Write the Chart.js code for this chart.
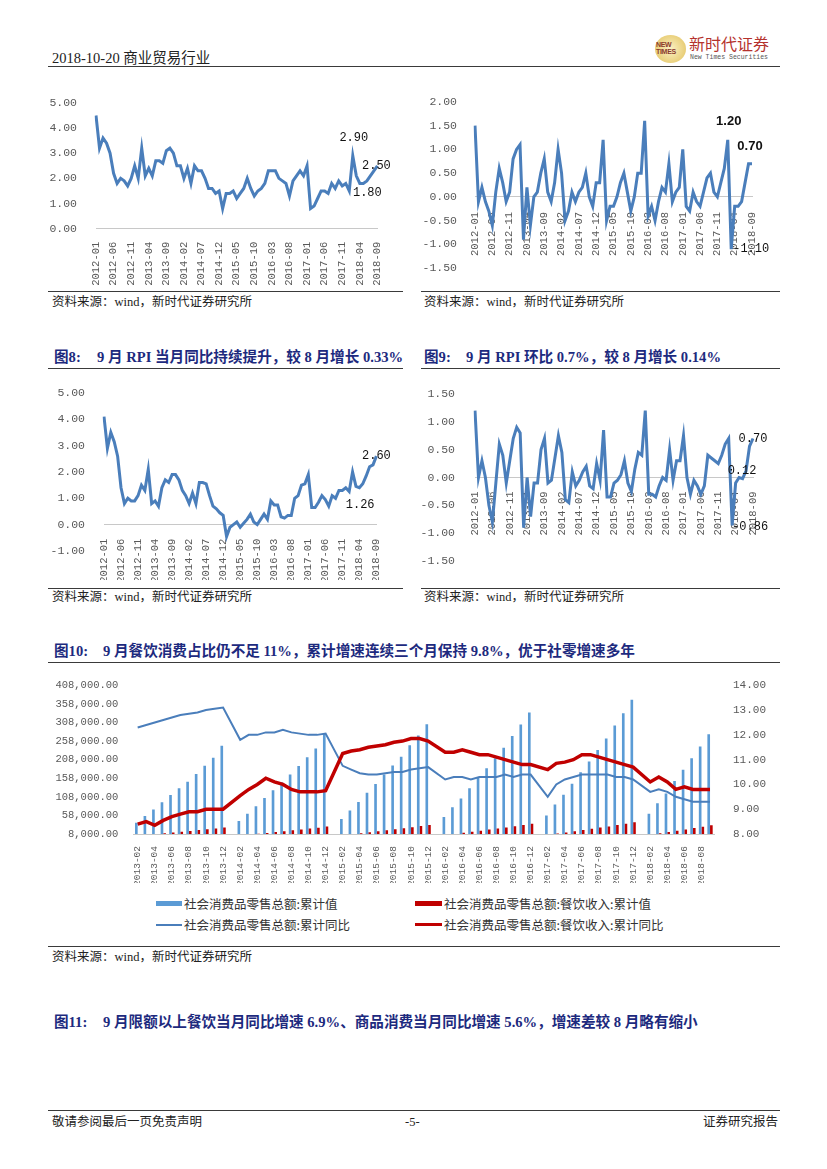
<!DOCTYPE html>
<html><head><meta charset="utf-8">
<script src="https://cdn.jsdelivr.net/npm/chart.js@4.4.1/dist/chart.umd.min.js"></script>
<style>
body{margin:0;background:#fff}
#page{position:relative;width:827px;height:1169px;overflow:hidden;font-family:"Liberation Serif","Noto Sans CJK SC",serif;color:#222}
#page canvas{position:absolute}
.t{position:absolute;white-space:nowrap}
.rule{position:absolute;height:0;border-top:1.6px solid #3a3a3a}
.src{font-size:12.5px;line-height:14px;color:#222}
.ttl{font-size:14.6px;line-height:16px;font-weight:700;color:#1d2a7e}
.lg{font-size:12.5px;line-height:14px;color:#333;font-family:"Noto Sans CJK SC",sans-serif}
.sw{position:absolute}
</style></head><body><div id="page">

<div class="t" style="left:52px;top:48px;font-size:14.5px;line-height:18px">2018-10-20 <span style="font-family:'Noto Sans CJK SC'">商业贸易行业</span></div>
<div class="rule" style="left:48px;top:66px;width:732px"></div>
<div class="sw" style="left:655px;top:35px;width:31px;height:28px;border-radius:50%;background:radial-gradient(circle,#fbf1c4 0%,#e9cf7a 70%,#d6b352 100%)"></div>
<div class="t" style="left:656px;top:41px;font:bold 7px/7px 'Liberation Sans';color:#8b3a2b;letter-spacing:-0.3px">NEW<br>TIMES</div>
<div class="t" style="left:689px;top:33px;font-size:16px;line-height:20px;color:#b5322d;font-family:'Noto Sans CJK SC'">新时代证券</div>
<div class="t" style="left:690px;top:54px;font:6.5px/8px 'Liberation Mono';color:#555">New Times Securities</div>

<canvas id="c1" width="345" height="200" style="left:50px;top:85px"></canvas>
<canvas id="c2" width="370" height="200" style="left:420px;top:85px"></canvas>
<div class="rule" style="left:48px;top:291px;width:355px"></div>
<div class="rule" style="left:421px;top:291px;width:359px"></div>
<div class="t src" style="left:52px;top:295px">资料来源：wind，新时代证券研究所</div>
<div class="t src" style="left:424px;top:295px">资料来源：wind，新时代证券研究所</div>

<div class="t ttl" style="left:54px;top:349px">图8:</div>
<div class="t ttl" style="left:97px;top:349px">9 月 RPI 当月同比持续提升，较 8 月增长 0.33%</div>
<div class="t ttl" style="left:424px;top:349px">图9:</div>
<div class="t ttl" style="left:466px;top:349px">9 月 RPI 环比 0.7%，较 8 月增长 0.14%</div>
<div class="rule" style="left:48px;top:368px;width:355px"></div>
<div class="rule" style="left:421px;top:368px;width:359px"></div>

<canvas id="c3" width="345" height="205" style="left:50px;top:375px"></canvas>
<canvas id="c4" width="370" height="205" style="left:420px;top:375px"></canvas>
<div class="rule" style="left:48px;top:588px;width:355px"></div>
<div class="rule" style="left:421px;top:588px;width:359px"></div>
<div class="t src" style="left:52px;top:590px">资料来源：wind，新时代证券研究所</div>
<div class="t src" style="left:424px;top:590px">资料来源：wind，新时代证券研究所</div>

<div class="t ttl" style="left:54px;top:643px">图10:</div>
<div class="t ttl" style="left:103px;top:643px">9 月餐饮消费占比仍不足 11%，累计增速连续三个月保持 9.8%，优于社零增速多年</div>
<div class="rule" style="left:48px;top:662px;width:732px"></div>

<canvas id="c5" width="740" height="215" style="left:40px;top:668px"></canvas>
<div class="sw" style="left:156px;top:901px;width:26px;height:5px;background:#5b9bd5"></div>
<div class="t lg" style="left:184px;top:897px">社会消费品零售总额:累计值</div>
<div class="sw" style="left:415px;top:901px;width:27px;height:5px;background:#c00000"></div>
<div class="t lg" style="left:444px;top:897px">社会消费品零售总额:餐饮收入:累计值</div>
<div class="sw" style="left:156px;top:924px;width:26px;height:2px;background:#4a7ebb"></div>
<div class="t lg" style="left:184px;top:918px">社会消费品零售总额:累计同比</div>
<div class="sw" style="left:415px;top:923px;width:27px;height:3px;background:#c00000"></div>
<div class="t lg" style="left:444px;top:918px">社会消费品零售总额:餐饮收入:累计同比</div>
<div class="rule" style="left:48px;top:946px;width:732px"></div>
<div class="t src" style="left:52px;top:950px">资料来源：wind，新时代证券研究所</div>

<div class="t ttl" style="left:54px;top:1014px">图11:</div>
<div class="t ttl" style="left:103px;top:1014px">9 月限额以上餐饮当月同比增速 6.9%、商品消费当月同比增速 5.6%，增速差较 8 月略有缩小</div>

<div class="rule" style="left:48px;top:1110px;width:732px"></div>
<div class="t src" style="left:52px;top:1115px">敬请参阅最后一页免责声明</div>
<div class="t src" style="left:405px;top:1115px">-5-</div>
<div class="t src" style="left:703px;top:1115px">证券研究报告</div>
</div>

<script>
// 月份类别
function monthsFrom(y, m, n) {
  const out = [];
  for (let i = 0; i < n; i++) {
    out.push(y + '-' + String(m).padStart(2, '0'));
    m++; if (m > 12) { m = 1; y++; }
  }
  return out;
}
const months = monthsFrom(2012, 1, 81);     // 2012-01 .. 2018-09
const monthsBig = monthsFrom(2013, 2, 68);  // 2013-02 .. 2018-09

// CPI 当月同比
const cpiYoy = [4.5,3.2,3.6,3.4,3.0,2.2,1.8,2.0,1.9,1.7,2.0,2.5,
  2.0,3.2,2.1,2.4,2.1,2.7,2.7,2.6,3.1,3.2,3.0,2.5,
  2.5,2.0,2.4,1.8,2.5,2.3,2.3,2.0,1.6,1.6,1.4,1.5,
  0.8,1.4,1.4,1.5,1.2,1.4,1.6,2.0,1.6,1.3,1.5,1.6,
  1.8,2.3,2.3,2.3,2.0,1.9,1.8,1.3,1.9,2.1,2.3,2.1,
  2.5,0.8,0.9,1.2,1.5,1.5,1.4,1.8,1.6,1.9,1.7,1.8,
  1.5,2.9,2.1,1.8,1.8,1.9,2.1,2.3,2.5];
// CPI 环比
const cpiMom = [1.5,-0.1,0.2,-0.1,-0.3,-0.6,0.1,0.6,0.3,-0.1,0.1,0.8,
  1.0,1.1,-0.9,0.2,-0.6,0.0,0.1,0.5,0.8,0.1,-0.1,0.3,
  1.0,0.5,-0.5,-0.3,0.1,-0.1,0.1,0.2,0.5,0.0,-0.2,0.3,
  0.3,1.2,-0.5,-0.2,-0.2,0.0,0.3,0.5,0.1,-0.3,0.0,0.5,
  0.5,1.6,-0.4,-0.2,-0.5,-0.1,0.2,0.1,0.7,-0.1,0.1,0.2,
  1.0,-0.2,-0.3,0.1,-0.1,-0.2,0.1,0.4,0.5,0.1,0.0,0.3,
  0.6,1.2,-1.1,-0.2,-0.2,-0.1,0.3,0.7,0.7];
// 图8: RPI 当月同比
const rpiYoy = [4.1,2.9,3.5,3.15,2.6,1.4,0.8,1.0,0.9,0.9,1.1,1.5,
  1.3,2.1,0.8,0.9,0.7,1.4,1.7,1.6,1.9,1.9,1.7,1.3,
  1.1,0.8,1.2,0.8,1.6,1.6,1.55,1.1,0.7,0.6,0.45,0.35,
  -0.45,-0.1,0.0,0.1,-0.1,0.05,0.2,0.4,0.1,0.0,0.2,0.4,
  0.2,0.9,0.75,0.75,0.3,0.25,0.35,0.35,1.0,1.1,1.5,1.55,
  1.9,0.65,0.65,0.85,1.1,0.95,0.7,1.1,1.0,1.3,1.3,1.4,
  1.26,2.0,1.45,1.4,1.55,1.85,2.2,2.27,2.6];
// 图9: RPI 环比
const rpiMom = [1.2,0.0,0.3,0.0,-0.5,-0.8,-0.1,0.6,0.4,-0.1,0.3,0.7,
  0.9,0.8,-0.9,0.0,-0.7,-0.1,-0.1,0.5,0.7,-0.1,-0.05,0.35,
  0.75,0.45,-0.4,-0.45,0.1,-0.15,-0.05,0.1,0.2,-0.15,-0.2,0.25,
  -0.05,0.85,-0.35,-0.35,-0.1,-0.05,0.05,0.3,-0.1,-0.25,0.15,0.45,
  0.4,1.2,-0.3,-0.3,-0.35,-0.15,0.0,-0.05,0.5,-0.05,0.3,0.3,
  0.75,0.0,-0.3,-0.05,-0.15,-0.3,-0.15,0.4,0.35,0.3,0.25,0.4,
  0.6,0.7,-0.86,-0.1,0.0,-0.02,0.12,0.56,0.7];

// 图10: 社零累计值 / 餐饮累计值 (亿元), 累计同比 (%); 1 月无数据
const retailCum = [38000,56300,74000,93200,112600,131000,148600,169700,191700,212800,245300,
  null,43100,62500,82700,104700,125800,147000,168000,190800,214500,238300,277800,
  null,48400,71300,94100,118700,142400,168000,192500,216000,247000,273000,303000,
  null,53700,80000,103800,131000,159100,184600,211900,240000,271600,302400,334900,
  null,58100,87100,113400,143300,174100,203100,233800,264600,299700,333100,369200,
  null,62500,90600,117000,150400,181100,211900,243500,276000];
const cateringCum = [4000,6000,8000,10100,12200,14300,16400,18600,21000,23100,25400,
  null,4400,6500,8700,10900,13200,15500,17800,20100,22700,25100,27900,
  null,5100,7600,10100,12600,15300,18000,20600,23300,26300,29200,32300,
  null,5600,8300,11100,14000,16900,19800,22800,25800,29100,32300,35800,
  null,6100,9100,12200,15400,18600,21900,25200,28500,32100,35800,39600,
  null,6700,10000,13400,16900,20400,24000,27600,31300];
const retailYoy = [12.3,12.4,12.5,12.6,12.7,12.8,12.85,12.9,13.0,13.05,13.1,
  null,11.8,12.0,12.0,12.1,12.1,12.2,12.1,12.05,12.0,12.0,12.05,
  null,10.75,10.6,10.45,10.4,10.4,10.45,10.5,10.5,10.6,10.65,10.7,
  null,10.2,10.3,10.3,10.2,10.3,10.3,10.3,10.4,10.3,10.4,10.4,
  null,9.5,10.0,10.2,10.3,10.4,10.4,10.4,10.4,10.3,10.3,10.2,
  null,9.7,9.8,9.7,9.5,9.4,9.3,9.3,9.3];
const cateringYoy = [8.4,8.5,8.35,8.55,8.7,8.8,8.9,8.9,9.0,9.0,9.0,
  null,9.55,9.8,10.0,10.25,10.1,10.0,9.8,9.7,9.7,9.7,9.75,
  null,11.25,11.35,11.4,11.5,11.55,11.6,11.7,11.75,11.85,11.85,11.75,
  null,11.3,11.3,11.4,11.3,11.2,11.2,11.1,11.0,10.9,10.8,10.8,
  null,10.6,10.85,10.9,11.0,11.2,11.2,11.1,11.0,10.9,10.8,10.7,
  null,10.1,10.3,10.1,9.8,9.9,9.8,9.8,9.8];

const MONO = "'Liberation Mono', monospace";
const GRAY = '#595959';
const LINE_BLUE = '#4a7ebb';

// 数据点标注
const pointLabels = {
  id: 'pointLabels',
  afterDatasetsDraw(chart, args, opts) {
    if (!opts.items) return;
    const meta = chart.getDatasetMeta(0);
    const vals = chart.data.datasets[0].data;
    const ctx = chart.ctx;
    ctx.save();
    ctx.textAlign = 'center';
    ctx.textBaseline = 'middle';
    ctx.fillStyle = '#111';
    opts.items.forEach(it => {
      const p = meta.data[it.i];
      ctx.font = it.bold ? "bold 13px 'Liberation Sans'" : "12px " + MONO;
      ctx.fillText(vals[it.i].toFixed(2), p.x + it.dx, p.y + it.dy);
    });
    ctx.restore();
  }
};

function smallChart(id, series, c) {
  return new Chart(document.getElementById(id), {
    type: 'line',
    data: { labels: months, datasets: [{ data: series, borderColor: LINE_BLUE, borderWidth: 3, pointRadius: 0, tension: 0, fill: false }] },
    options: {
      responsive: false, animation: false, devicePixelRatio: 1,
      layout: { padding: c.pad },
      plugins: { legend: { display: false }, tooltip: { enabled: false }, pointLabels: { items: c.marks } },
      scales: {
        x: {
          position: c.atZero ? { y: 0 } : 'bottom',
          grid: { display: false },
          border: { display: true, color: '#c8c8c8', width: 1 },
          ticks: { autoSkip: false, minRotation: 90, maxRotation: 90, padding: c.xPad, color: GRAY,
                   font: { family: MONO, size: 10.5 },
                   callback: (v, i) => i % 5 === 0 ? months[i] : '' },
          afterFit: s => { if (c.xHeight) s.height = c.xHeight; }
        },
        y: {
          min: c.min, max: c.max,
          grid: { display: false }, border: { display: false },
          ticks: { stepSize: c.step, padding: c.yPad, color: GRAY, font: { family: MONO, size: 11.5 },
                   callback: v => v.toFixed(2) },
          afterFit: s => { s.width = c.yWidth; }
        }
      }
    },
    plugins: [pointLabels]
  });
}

smallChart('c1', cpiYoy, { min: 0, max: 5, step: 1, pad: { top: 9.3, right: 15, left: 0, bottom: 0 },
  yWidth: 46, xHeight: 56.3, xPad: 5, yPad: 11,
  marks: [{ i: 73, dx: 1, dy: -18 }, { i: 76, dx: 4, dy: 9 }, { i: 80, dx: -1, dy: 0 }] });
smallChart('c2', cpiMom, { min: -1.5, max: 2, step: 0.5, atZero: true, pad: { top: 9.3, right: 38, left: 0, bottom: 12.3 },
  yWidth: 55, xPad: 7, yPad: 10,
  marks: [{ i: 73, dx: 1, dy: -18, bold: true }, { i: 80, dx: -2, dy: -17, bold: true }, { i: 74, dx: 20, dy: 0 }] });
smallChart('c3', rpiYoy, { min: -1, max: 5, step: 1, atZero: true, pad: { top: 13.3, right: 13, left: 0, bottom: 29 },
  yWidth: 54, xPad: 6, yPad: 11,
  marks: [{ i: 80, dx: 0, dy: 0 }, { i: 72, dx: 11, dy: 13 }] });
smallChart('c4', rpiMom, { min: -1.5, max: 1.5, step: 0.5, atZero: true, pad: { top: 13.3, right: 37, left: 0, bottom: 13.3 },
  yWidth: 55, xPad: 6, yPad: 12,
  marks: [{ i: 80, dx: 0, dy: 0 }, { i: 78, dx: -4, dy: 0 }, { i: 74, dx: 18, dy: 1 }] });

new Chart(document.getElementById('c5'), {
  type: 'bar',
  data: {
    labels: monthsBig,
    datasets: [
      { label: '社会消费品零售总额:累计值', data: retailCum, backgroundColor: '#5b9bd5', yAxisID: 'y', order: 2,
        categoryPercentage: 0.62, barPercentage: 1 },
      { label: '社会消费品零售总额:餐饮收入:累计值', data: cateringCum, backgroundColor: '#c00000', yAxisID: 'y', order: 3,
        categoryPercentage: 0.62, barPercentage: 1 },
      { type: 'line', label: '社会消费品零售总额:累计同比', data: retailYoy, borderColor: '#4a7ebb', borderWidth: 2,
        yAxisID: 'y1', order: 1, pointRadius: 0, spanGaps: true, tension: 0 },
      { type: 'line', label: '社会消费品零售总额:餐饮收入:累计同比', data: cateringYoy, borderColor: '#c00000', borderWidth: 3.5,
        yAxisID: 'y1', order: 0, pointRadius: 0, spanGaps: true, tension: 0 }
    ]
  },
  options: {
    responsive: false, animation: false, devicePixelRatio: 1,
    layout: { padding: { top: 14.3, right: 0, left: 0, bottom: 0 } },
    plugins: { legend: { display: false }, tooltip: { enabled: false } },
    scales: {
      x: {
        grid: { display: false },
        border: { display: true, color: '#c8c8c8', width: 1 },
        ticks: { autoSkip: false, minRotation: 90, maxRotation: 90, padding: 4, color: GRAY,
                 font: { family: MONO, size: 9.5 },
                 callback: (v, i) => i % 2 === 0 ? monthsBig[i] : '' },
        afterFit: s => { s.height = 49; }
      },
      y: {
        min: 8000, max: 408000,
        grid: { display: false }, border: { display: false },
        ticks: { stepSize: 50000, padding: 7, color: GRAY, font: { family: MONO, size: 10.5 },
                 callback: v => v.toLocaleString('en-US', { minimumFractionDigits: 2, maximumFractionDigits: 2 }) },
        afterFit: s => { s.width = 93.4; }
      },
      y1: {
        position: 'right', min: 8, max: 14,
        grid: { display: false }, border: { display: false },
        ticks: { stepSize: 1, padding: 10.7, color: GRAY, font: { family: MONO, size: 11 },
                 callback: v => v.toFixed(2) },
        afterFit: s => { s.width = 65.7; }
      }
    }
  }
});
</script>
</body></html>
